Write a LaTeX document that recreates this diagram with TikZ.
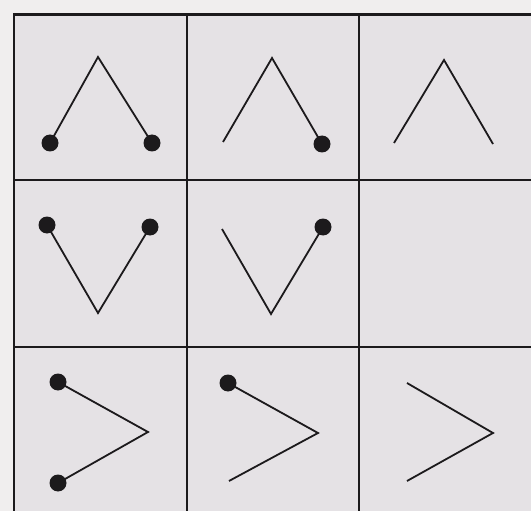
\documentclass[tikz,border=0pt]{standalone}
\definecolor{paper}{RGB}{240,238,238}
\definecolor{cellbg}{RGB}{229,226,229}
\definecolor{ink}{RGB}{28,26,28}
\tikzset{
  gridline/.style={draw=ink, line width=2.2pt},
  chev/.style={draw=ink, line width=1.8pt, line join=miter},
  dot/.style={fill=ink}
}
\begin{document}
\begin{tikzpicture}[x=1pt,y=-1pt]
\useasboundingbox (0,0) rectangle (531,511);
\clip (0,0) rectangle (531,511);
\fill[paper] (0,0) rectangle (531,511);
\fill[cellbg] (14,14.5) rectangle (545,525);
% grid
\draw[gridline] (545,14.5) -- (14,14.5) -- (14,525);
\draw[gridline] (187,14.5) -- (187,525);
\draw[gridline] (359,14.5) -- (359,525);
\draw[gridline] (14,180) -- (545,180);
\draw[gridline] (14,347) -- (545,347);
% row 1
\draw[chev] (50,143) -- (98,57) -- (152,143);
\fill[dot] (50,143) circle (8.5);
\fill[dot] (152,143) circle (8.5);
\draw[chev] (223,142) -- (272,58) -- (322,144);
\fill[dot] (322,144) circle (8.5);
\draw[chev] (394,143) -- (444,60) -- (493,144);
% row 2
\draw[chev] (47,225) -- (98,313) -- (150,227);
\fill[dot] (47,225) circle (8.5);
\fill[dot] (150,227) circle (8.5);
\draw[chev] (222,229) -- (271,314) -- (323,227);
\fill[dot] (323,227) circle (8.5);
% row 3
\draw[chev] (58,382) -- (148,432) -- (58,483);
\fill[dot] (58,382) circle (8.5);
\fill[dot] (58,483) circle (8.5);
\draw[chev] (228,383) -- (318,433) -- (229,481);
\fill[dot] (228,383) circle (8.5);
\draw[chev] (407,383) -- (493,433) -- (407,481);
\end{tikzpicture}
\end{document}
